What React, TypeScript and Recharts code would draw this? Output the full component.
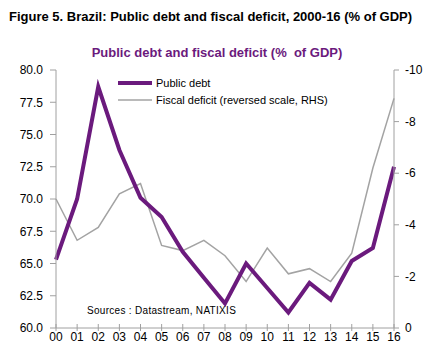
import React from "react";
import { LineChart, Line, XAxis, YAxis, Legend } from "recharts";

const years = ["00", "01", "02", "03", "04", "05", "06", "07", "08", "09", "10", "11", "12", "13", "14", "15", "16"];
const publicDebt = [65.3, 70.0, 78.7, 73.8, 70.1, 68.6, 65.9, 63.9, 61.9, 65.0, 63.1, 61.2, 63.5, 62.2, 65.2, 66.2, 72.5];
const fiscalDeficit = [-5.0, -3.4, -3.9, -5.2, -5.6, -3.2, -3.0, -3.4, -2.8, -1.8, -3.1, -2.1, -2.3, -1.8, -2.9, -6.2, -8.9];
const leftTicks = [60, 62.5, 65, 67.5, 70, 72.5, 75, 77.5, 80];
const rightTicks = [-10, -8, -6, -4, -2, 0];

const PURPLE = "#6b1a7d";
const GRAY = "#a3a3a3";
const AXIS = "#a0a0a0";
const FONT = "'Liberation Sans', Arial, sans-serif";

const data = years.map((y, i) => ({ year: y, debt: publicDebt[i], deficit: fiscalDeficit[i] }));

const XTick = (props: any) => {
  const { x, y, payload } = props;
  return (
    <g>
      <line x1={x} x2={x} y1={y - 4} y2={y + 3} stroke={AXIS} strokeWidth={1} />
      <text x={x} y={y + 13} textAnchor="middle" fontSize={12} fontFamily={FONT} fill="#000">
        {payload.value}
      </text>
    </g>
  );
};

const LegendContent = () => (
  <svg width={230} height={36} style={{ display: "block" }}>
    <line x1={1} x2={35} y1={7} y2={7} stroke={PURPLE} strokeWidth={4} />
    <text x={39} y={11} fontSize={11} fontFamily={FONT} fill="#000">Public debt</text>
    <line x1={1} x2={35} y1={24} y2={24} stroke={GRAY} strokeWidth={1.5} />
    <text x={39} y={28} fontSize={11} fontFamily={FONT} fill="#000">Fiscal deficit (reversed scale, RHS)</text>
  </svg>
);

export default function App() {
  return (
    <div style={{ position: "absolute", left: 0, top: 0, width: 440, height: 360, background: "#fff" }}>
      <LineChart width={440} height={360} data={data} margin={{ top: 70, right: 0, bottom: 0, left: 0 }}>
        <XAxis
          dataKey="year"
          height={32}
          axisLine={{ stroke: AXIS }}
          tickLine={false}
          tickSize={0}
          tickMargin={0}
          interval={0}
          tick={<XTick />}
        />
        <YAxis
          yAxisId="left"
          width={56}
          domain={[60, 80]}
          ticks={leftTicks}
          interval={0}
          tickFormatter={(v: number) => v.toFixed(1)}
          axisLine={{ stroke: AXIS }}
          tickLine={{ stroke: AXIS }}
          tickSize={6}
          tickMargin={7}
          tick={{ fontSize: 12, fontFamily: FONT, fill: "#000" }}
        />
        <YAxis
          yAxisId="right"
          orientation="right"
          width={46}
          domain={[-10, 0]}
          reversed
          ticks={rightTicks}
          interval={0}
          axisLine={{ stroke: AXIS }}
          tickLine={{ stroke: AXIS }}
          tickSize={5}
          tickMargin={6}
          tick={{ fontSize: 12, fontFamily: FONT, fill: "#000", textAnchor: "start" }}
        />
        <Legend
          layout="horizontal"
          verticalAlign="middle"
          align="center"
          wrapperStyle={{ position: "absolute", left: 117, top: 76, width: 230, height: 36 }}
          content={<LegendContent />}
        />
        <Line
          yAxisId="right"
          dataKey="deficit"
          stroke={GRAY}
          strokeWidth={1.5}
          dot={false}
          isAnimationActive={false}
        />
        <Line
          yAxisId="left"
          dataKey="debt"
          stroke={PURPLE}
          strokeWidth={4}
          dot={false}
          isAnimationActive={false}
        />
      </LineChart>
      <svg width={440} height={360} style={{ position: "absolute", left: 0, top: 0, pointerEvents: "none" }}>
        <text x={9} y={21} fontSize={13} fontWeight="bold" fontFamily={FONT} fill="#000">
          Figure 5. Brazil: Public debt and fiscal deficit, 2000-16 (% of GDP)
        </text>
        <text x={217} y={57} textAnchor="middle" fontSize={13} fontWeight="bold" fontFamily={FONT} fill={PURPLE} xmlSpace="preserve">
          Public debt and fiscal deficit (%  of GDP)
        </text>
        <text x={87} y={314} fontSize={10} fontFamily={FONT} fill="#000" letterSpacing={0.3}>
          Sources : Datastream, NATIXIS
        </text>
      </svg>
    </div>
  );
}
